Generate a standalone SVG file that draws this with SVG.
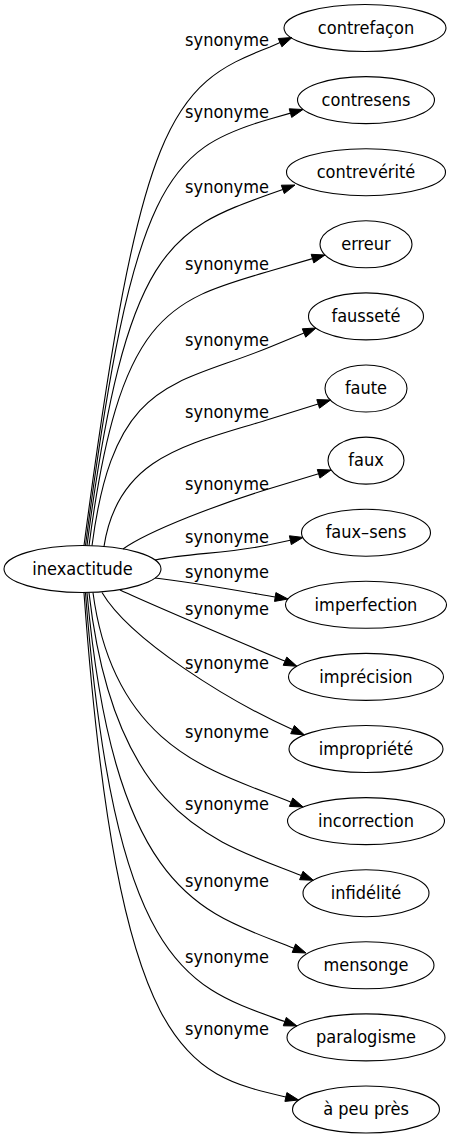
<svg xmlns="http://www.w3.org/2000/svg" width="452" height="1139" viewBox="0 0 452 1139">
<style>
.n ellipse{fill:none;stroke:#000;stroke-width:1.1}
text{font-family:"DejaVu Sans Condensed","DejaVu Sans",sans-serif;font-stretch:condensed;font-size:18px;fill:#000;text-anchor:middle}
.e path{fill:none;stroke:#000;stroke-width:1.1}
.e polygon{fill:#000;stroke:#000;stroke-width:1}
</style>
<rect width="452" height="1139" fill="#fff"/>
<g id="edges" class="e">
<path d="M84,545.5 C140,120 170,85 270,47 L280.1,42.6"/><polygon points="281.9,46.8 292,37.5 278.3,38.5"/>
<path d="M85.5,545.5 C132.4,183 167.2,148.6 270,119 L290.5,113.1"/><polygon points="291.7,117.4 303,109.5 289.2,108.8"/>
<path d="M87,545.5 C125.7,246.7 170.4,229.8 270,194 L282.8,189.4"/><polygon points="284.3,193.6 295,185 281.3,185.2"/>
<path d="M89,545.7 C119.2,312.2 169.2,300.3 270,271 L312.5,258.6"/><polygon points="313.8,262.9 325,255 311.2,254.3"/>
<path d="M92,545.8 C113.9,376.8 174.8,386.3 270,347 L304,333"/><polygon points="305.7,337.2 316,328 302.3,328.8"/>
<path d="M104,546.4 C118,455 189.9,444.2 270,419 L318.1,403.9"/><polygon points="319.5,408.2 330.5,400 316.8,399.6"/>
<path d="M123,549 C150,530 222.2,503 270,488.5 L318.6,473.8"/><polygon points="319.9,478.1 331,470 317.3,469.5"/>
<path d="M155,560 C190,553 228.9,553.5 268,545 L290.3,540.2"/><polygon points="291.3,544.6 303,537.4 289.4,535.8"/>
<path d="M155,578 C190,582 240,591 275.2,597"/><polygon points="274.5,601.4 288,599 275.9,592.6"/>
<path d="M120,590 C150,604 239,641.7 285,661.2"/><polygon points="283.2,665.3 297,666.3 286.8,657.1"/>
<path d="M102,592.5 C130,640 228.7,700.9 292.5,729.6"/><polygon points="290.7,733.7 304.4,734.9 294.4,725.5"/>
<path d="M93,592.8 C114,749.8 216.9,772.5 291.1,802.2"/><polygon points="289.4,806.4 303.2,807 292.8,798"/>
<path d="M89,592.9 C115,820 217.8,842.1 301.3,875.5"/><polygon points="299.6,879.7 313.4,880.3 303,871.3"/>
<path d="M87,593 C115,900 205.7,913 293.9,948.2"/><polygon points="292.2,952.4 306,953 295.6,944"/>
<path d="M85.5,593 C115,975 190.8,987.6 284.8,1021.6"/><polygon points="283.3,1025.8 297,1026 286.3,1017.4"/>
<path d="M84,593 C118,1060 187,1074 285.9,1097"/><polygon points="284.9,1101.4 298.6,1100 286.9,1092.6"/>
<text x="227" y="46">synonyme</text>
<text x="227" y="118">synonyme</text>
<text x="227" y="193">synonyme</text>
<text x="227" y="270">synonyme</text>
<text x="227" y="346">synonyme</text>
<text x="227" y="418">synonyme</text>
<text x="227" y="490">synonyme</text>
<text x="227" y="543">synonyme</text>
<text x="227" y="578">synonyme</text>
<text x="227" y="615">synonyme</text>
<text x="227" y="669">synonyme</text>
<text x="227" y="738">synonyme</text>
<text x="227" y="810">synonyme</text>
<text x="227" y="887">synonyme</text>
<text x="227" y="963">synonyme</text>
<text x="227" y="1035">synonyme</text>
</g>
<g id="n0" class="n"><ellipse cx="82.5" cy="569" rx="78.5" ry="23.5"/><text x="82.5" y="575">inexactitude</text></g>
<g id="n1" class="n"><ellipse cx="365" cy="28" rx="81" ry="23.5"/><text x="366" y="34">contrefaçon</text></g>
<g id="n2" class="n"><ellipse cx="366" cy="100.1" rx="68.5" ry="23.5"/><text x="366" y="106">contresens</text></g>
<g id="n3" class="n"><ellipse cx="366" cy="172.2" rx="79.5" ry="23.5"/><text x="366" y="178">contrevérité</text></g>
<g id="n4" class="n"><ellipse cx="366" cy="244.3" rx="46" ry="23.5"/><text x="366" y="250">erreur</text></g>
<g id="n5" class="n"><ellipse cx="366" cy="316.4" rx="57.5" ry="23.5"/><text x="366" y="322">fausseté</text></g>
<g id="n6" class="n"><ellipse cx="366" cy="388.5" rx="41" ry="23.5"/><text x="366" y="394">faute</text></g>
<g id="n7" class="n"><ellipse cx="366" cy="460.6" rx="38" ry="23.5"/><text x="366" y="466">faux</text></g>
<g id="n8" class="n"><ellipse cx="366" cy="532.7" rx="64.5" ry="23.5"/><text x="366" y="538">faux–sens</text></g>
<g id="n9" class="n"><ellipse cx="366" cy="604.8" rx="80.5" ry="23.5"/><text x="366" y="611">imperfection</text></g>
<g id="n10" class="n"><ellipse cx="366" cy="676.9" rx="77.5" ry="23.5"/><text x="366" y="683">imprécision</text></g>
<g id="n11" class="n"><ellipse cx="366" cy="749" rx="77" ry="23.5"/><text x="366" y="755">impropriété</text></g>
<g id="n12" class="n"><ellipse cx="366" cy="821.1" rx="78.5" ry="23.5"/><text x="366" y="827">incorrection</text></g>
<g id="n13" class="n"><ellipse cx="366" cy="893.2" rx="63" ry="23.5"/><text x="366" y="899">infidélité</text></g>
<g id="n14" class="n"><ellipse cx="366" cy="965.3" rx="68" ry="23.5"/><text x="366" y="971">mensonge</text></g>
<g id="n15" class="n"><ellipse cx="366" cy="1037.4" rx="79" ry="23.5"/><text x="366" y="1043">paralogisme</text></g>
<g id="n16" class="n"><ellipse cx="366" cy="1109.5" rx="73.5" ry="23.5"/><text x="366" y="1115">à peu près</text></g>
</svg>
